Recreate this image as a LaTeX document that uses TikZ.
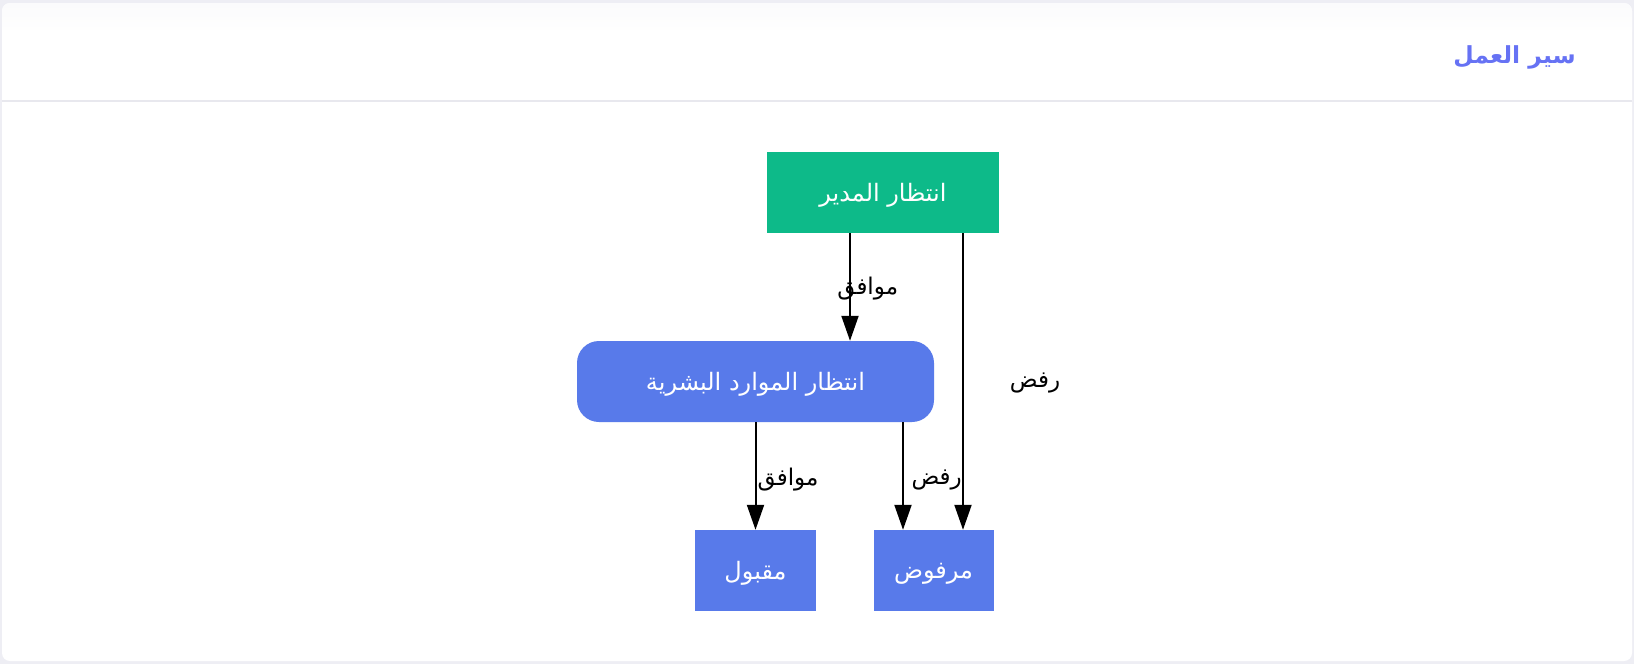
\documentclass[tikz,border=0pt]{standalone}
\usepackage{fontspec}
\usetikzlibrary{arrows.meta}
\TeXXeTstate=1
\newfontfamily\arabicfont[Script=Arabic]{DejaVu Sans}
\newcommand\lowertext[1]{\raisebox{-3pt}[\height][\depth]{#1}}
\definecolor{pagebg}{HTML}{EEEEF4}
\definecolor{hdrbg}{HTML}{FBFBFC}
\definecolor{sepline}{HTML}{E8E8EE}
\definecolor{titlec}{HTML}{6672F4}
\definecolor{greenbox}{HTML}{0DBA89}
\definecolor{bluebox}{HTML}{587AEA}
\tikzset{
  box/.style={draw=none, minimum height=81pt, inner sep=0pt, text=white,
    font=\arabicfont\fontsize{24}{28}\selectfont},
  greenstate/.style={box, fill=greenbox, minimum width=232pt},
  bluestate/.style={box, fill=bluebox},
  arr/.style={line width=2pt, draw=black, -{Triangle[length=25pt,width=17pt]}},
  lbl/.style={font=\arabicfont\fontsize{23}{27}\selectfont, text=black, inner sep=0pt},
}
\begin{document}
\begin{tikzpicture}[x=1pt,y=-1pt]
\useasboundingbox (0,0) rectangle (1634,664);
\fill[pagebg] (0,0) rectangle (1634,664);
\fill[white, rounded corners=8pt] (2,3) rectangle (1632,661);
\shade[top color=hdrbg, bottom color=white, rounded corners=8pt] (2,3) rectangle (1632,40);
\fill[white] (2,30) rectangle (1632,100);
\draw[sepline, line width=1.5pt] (2,101) -- (1632,101);
\node[anchor=east, inner sep=0pt, text=titlec, font=\arabicfont\bfseries\fontsize{23.5}{28}\selectfont] (title) at (1576,57) {\beginR سير العمل\endR};

\node[greenstate] (mgr) at (883,192.5) {\lowertext{\beginR انتظار المدير\endR}};
\node[bluestate, minimum width=357pt, rounded corners=22pt] (hr) at (755.5,381.5) {\lowertext{\beginR انتظار الموارد البشرية\endR}};
\node[bluestate, minimum width=121pt] (acc) at (755.5,570.5) {\lowertext{\beginR مقبول\endR}};
\node[bluestate, minimum width=120pt] (rej) at (933.5,570.5) {\lowertext{\beginR مرفوض\endR}};

\coordinate (c1) at (850,0);
\coordinate (c2) at (963,0);
\coordinate (c3) at (755.5,0);
\coordinate (c4) at (903,0);

\draw[arr] (mgr.south -| c1) -- (hr.north -| c1);
\draw[arr] (mgr.south -| c2) -- (rej.north -| c2);
\draw[arr] (hr.south -| c3) -- (acc.north -| c3);
\draw[arr] (hr.south -| c4) -- (rej.north -| c4);

\node[lbl] (l1) at (867.7,288.7) {\beginR موافق\endR};
\node[lbl] (l2) at (1035,383) {\beginR رفض\endR};
\node[lbl] (l3) at (788,480) {\beginR موافق\endR};
\node[lbl] (l4) at (936.7,480) {\beginR رفض\endR};
\end{tikzpicture}
\end{document}
